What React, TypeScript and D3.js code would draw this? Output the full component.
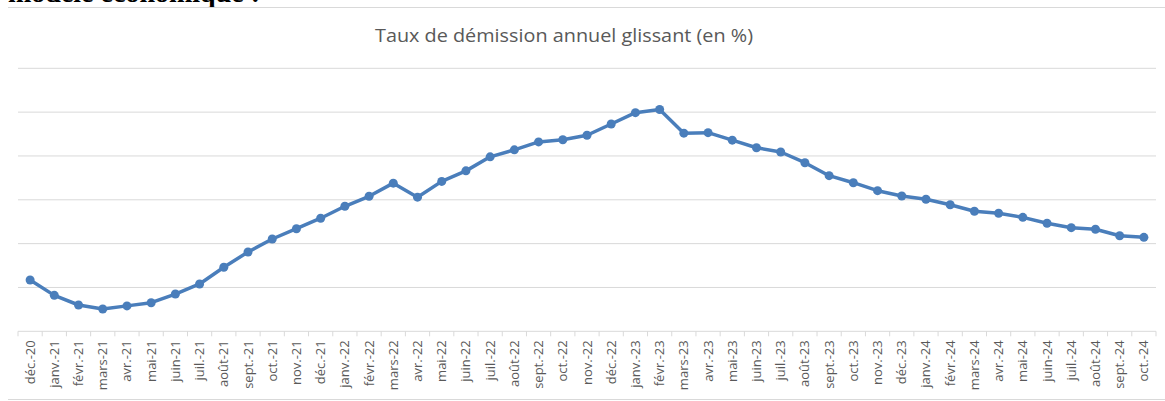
import * as d3 from "d3";

// Monthly labels, déc. 2020 to oct. 2024
const months = [
  "déc.-20",
  "janv.-21", "févr.-21", "mars-21", "avr.-21", "mai-21", "juin-21",
  "juil.-21", "août-21", "sept.-21", "oct.-21", "nov.-21", "déc.-21",
  "janv.-22", "févr.-22", "mars-22", "avr.-22", "mai-22", "juin-22",
  "juil.-22", "août-22", "sept.-22", "oct.-22", "nov.-22", "déc.-22",
  "janv.-23", "févr.-23", "mars-23", "avr.-23", "mai-23", "juin-23",
  "juil.-23", "août-23", "sept.-23", "oct.-23", "nov.-23", "déc.-23",
  "janv.-24", "févr.-24", "mars-24", "avr.-24", "mai-24", "juin-24",
  "juil.-24", "août-24", "sept.-24", "oct.-24",
];

// rolling annual resignation rate (axis has no labels)
const rate = [
  0.585,
  0.41, 0.3, 0.254, 0.29, 0.326, 0.425,
  0.54, 0.73, 0.905, 1.053, 1.17, 1.29,
  1.426, 1.54, 1.69, 1.53, 1.71, 1.83,
  1.99, 2.07, 2.16, 2.185, 2.236, 2.365,
  2.494, 2.53, 2.26, 2.266, 2.18, 2.094,
  2.045, 1.923, 1.775, 1.695, 1.604, 1.543,
  1.506, 1.444, 1.369, 1.346, 1.3, 1.232,
  1.182, 1.164, 1.09, 1.072,
];

const gridTicks = [0.5, 1, 1.5, 2, 2.5, 3];

const width = 1165;
const height = 401;
const margin = { top: 68.3, right: 9, bottom: 69.7, left: 18 };

const lineColor = "#4a7ebb";
const gridColor = "#d9d9d9";
const textColor = "#595959";

export default function App() {
  const x = d3
    .scaleBand()
    .domain(months)
    .range([margin.left, width - margin.right]);

  const y = d3
    .scaleLinear()
    .domain([0, 3])
    .range([height - margin.bottom, margin.top]);

  const cx = (m: string) => (x(m) ?? 0) + x.bandwidth() / 2;

  const line = d3
    .line<number>()
    .x((_, i) => cx(months[i]))
    .y((d) => y(d));

  const baseY = y(0);
  const boundaries = months.map((m) => x(m) ?? 0).concat([width - margin.right]);

  return (
    <svg
      width={width}
      height={height}
      style={{ position: "absolute", left: 0, top: 0, background: "#fff" }}
    >
      {/* end of the paragraph above the chart, cut by the crop */}
      <text
        x={8}
        y={1.5}
        fontFamily="'Liberation Serif', 'Times New Roman', serif"
        fontWeight="bold"
        fontSize={28}
        fill="#000"
      >
        modèle économique :
      </text>

      {/* chart frame */}
      <line x1={8} x2={width} y1={7.5} y2={7.5} stroke={gridColor} />
      <line x1={8} x2={width} y1={399.5} y2={399.5} stroke={gridColor} />

      <text
        x={564}
        y={42}
        textAnchor="middle"
        fontFamily="'Open Sans', 'Noto Sans', sans-serif"
        fontSize={18}
        textLength={378}
        lengthAdjust="spacingAndGlyphs"
        fill={textColor}
      >
        Taux de démission annuel glissant (en %)
      </text>

      {/* gridlines */}
      {gridTicks.map((t) => (
        <line
          key={t}
          x1={margin.left}
          x2={width - margin.right}
          y1={y(t)}
          y2={y(t)}
          stroke={gridColor}
          strokeWidth={1}
        />
      ))}

      {/* x axis */}
      <line
        x1={margin.left}
        x2={width - margin.right}
        y1={baseY}
        y2={baseY}
        stroke={gridColor}
        strokeWidth={1}
      />
      {boundaries.map((b, i) => (
        <line key={i} x1={b} x2={b} y1={baseY} y2={baseY + 5} stroke={gridColor} />
      ))}
      {months.map((m) => (
        <text
          key={m}
          transform={`translate(${cx(m) + 4.5},${baseY + 9}) rotate(-90)`}
          textAnchor="end"
          fontFamily="'Open Sans', 'Noto Sans', sans-serif"
          fontSize={13}
          fill={textColor}
        >
          {m}
        </text>
      ))}

      {/* series */}
      <path
        d={line(rate) ?? ""}
        fill="none"
        stroke={lineColor}
        strokeWidth={3.5}
        strokeLinejoin="round"
      />
      {rate.map((v, i) => (
        <circle key={i} cx={cx(months[i])} cy={y(v)} r={4.5} fill={lineColor} />
      ))}
    </svg>
  );
}
